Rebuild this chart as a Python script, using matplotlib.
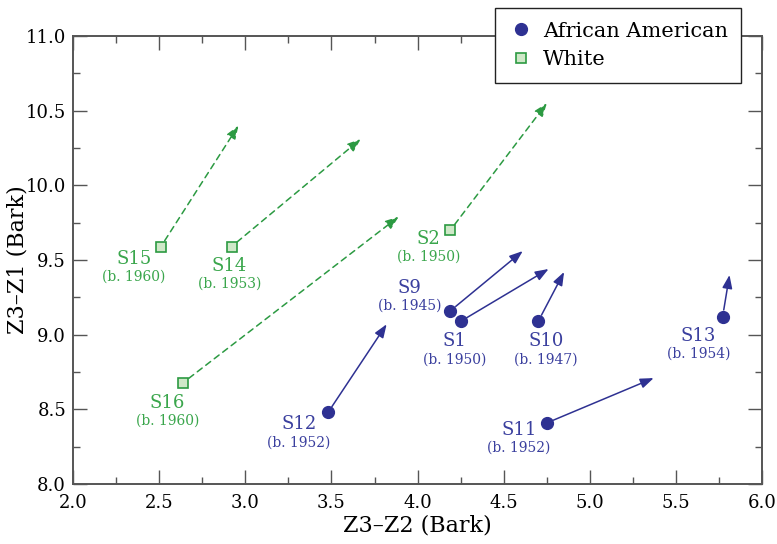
import matplotlib
matplotlib.use("Agg")
import matplotlib.pyplot as plt
from matplotlib.lines import Line2D
from matplotlib.ticker import MultipleLocator

# speaker data: start point -> arrow end point
names = ["S1", "S9", "S10", "S11", "S12", "S13", "S2", "S14", "S15", "S16"]
births = [1950, 1945, 1947, 1952, 1952, 1954, 1950, 1953, 1960, 1960]
groups = ["AA", "AA", "AA", "AA", "AA", "AA", "W", "W", "W", "W"]
x_start = [4.25, 4.19, 4.70, 4.75, 3.48, 5.77, 4.19, 2.92, 2.51, 2.64]
y_start = [9.09, 9.16, 9.09, 8.41, 8.48, 9.12, 9.70, 9.59, 9.59, 8.68]
x_end = [4.76, 4.61, 4.85, 5.37, 3.82, 5.81, 4.75, 3.67, 2.96, 3.89]
y_end = [9.44, 9.56, 9.42, 8.71, 9.07, 9.40, 10.55, 10.31, 10.40, 9.79]

BLUE = "#2e3192"
BLUE_TXT = "#3a3f9e"
GREEN = "#2c9a42"
GREEN_TXT = "#3aa64c"
GREEN_FACE = "#cfe8c8"

plt.rcParams["font.family"] = ["DejaVu Serif"]

fig = plt.figure(figsize=(7.77, 5.44), dpi=100)
ax = fig.add_axes([0.094, 0.110, 0.887, 0.824])

# label offsets in pixels (name centre), birth line sits below it
label_off = {
    "S1": (-6, -20), "S9": (-41, 23), "S10": (8, -20), "S11": (-28, -7),
    "S12": (-29, -12), "S13": (-24, -19), "S2": (-22, -9), "S14": (-2, -19),
    "S15": (-27, -12), "S16": (-16, -20),
}

for i, name in enumerate(names):
    aa = groups[i] == "AA"
    col = BLUE if aa else GREEN
    ax.annotate("", xy=(x_end[i], y_end[i]), xytext=(x_start[i], y_start[i]),
                arrowprops=dict(arrowstyle="-|>,head_length=0.8,head_width=0.3",
                                color=col, lw=1.1, linestyle="-" if aa else (0, (4, 3)),
                                shrinkA=5, shrinkB=0, mutation_scale=10))
    if aa:
        ax.plot(x_start[i], y_start[i], "o", ms=8.5, color=BLUE, zorder=5)
    else:
        ax.plot(x_start[i], y_start[i], "s", ms=7.5, mfc=GREEN_FACE, mec=GREEN,
                mew=1.2, zorder=5)
    tcol = BLUE_TXT if aa else GREEN_TXT
    dx, dy = label_off[name]
    ax.annotate(name, (x_start[i], y_start[i]), xytext=(dx, dy),
                textcoords="offset pixels", ha="center", va="center",
                fontsize=13, color=tcol)
    ax.annotate("(b. %d)" % births[i], (x_start[i], y_start[i]), xytext=(dx, dy - 18),
                textcoords="offset pixels", ha="center", va="center",
                fontsize=10, color=tcol)

ax.set_xlim(2.0, 6.0)
ax.set_ylim(8.0, 11.0)
ax.xaxis.set_major_locator(MultipleLocator(0.5))
ax.xaxis.set_minor_locator(MultipleLocator(0.25))
ax.yaxis.set_major_locator(MultipleLocator(0.5))
ax.yaxis.set_minor_locator(MultipleLocator(0.25))
ax.xaxis.set_major_formatter(plt.FormatStrFormatter("%.1f"))
ax.yaxis.set_major_formatter(plt.FormatStrFormatter("%.1f"))
ax.tick_params(which="both", direction="in", top=True, right=True,
               labelsize=13, color="#555555")
ax.tick_params(axis="x", which="both", pad=7)
ax.tick_params(axis="y", which="both", pad=5)
ax.tick_params(which="major", length=10, width=1)
ax.tick_params(which="minor", length=5, width=1)
for s in ax.spines.values():
    s.set_color("#555555")
    s.set_linewidth(1.4)

ax.set_xlabel("Z3–Z2 (Bark)", fontsize=16, labelpad=2)
ax.set_ylabel("Z3–Z1 (Bark)", fontsize=16, labelpad=-2)

handles = [
    Line2D([], [], marker="o", ls="", ms=8.5, color=BLUE, label="African American"),
    Line2D([], [], marker="s", ls="", ms=7.5, mfc=GREEN_FACE, mec=GREEN, mew=1.2,
           label="White"),
]
leg = fig.legend(handles=handles, loc="upper left", bbox_to_anchor=(0.637, 0.985),
                 bbox_transform=fig.transFigure, fontsize=15, frameon=True,
                 fancybox=False, edgecolor="#222222", framealpha=1,
                 handletextpad=0.45, handlelength=1.2, borderpad=0.65,
                 labelspacing=0.45, borderaxespad=0)
leg.get_frame().set_linewidth(1.0)

fig.savefig("out.png", dpi=100)
